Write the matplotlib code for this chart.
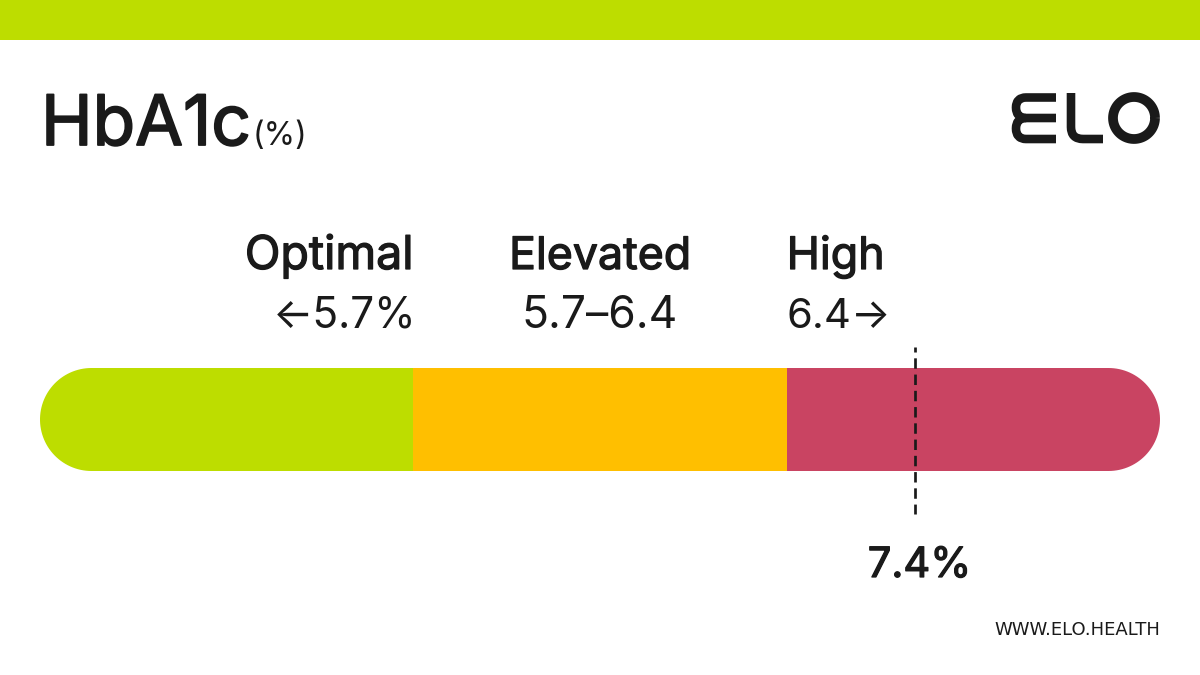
import matplotlib
matplotlib.use("Agg")
import matplotlib.pyplot as plt
import matplotlib.patheffects as pe
from matplotlib.patches import PathPatch, Rectangle
from matplotlib.path import Path
import numpy as np

plt.rcParams['font.family'] = ['Inter', 'DejaVu Sans']

zone_names = ['Optimal', 'Elevated', 'High']
zone_ranges = ['←5.7%', '5.7–6.4', '6.4→']
zone_widths = [1, 1, 1]
zone_colors = ['#BDDD00', '#FFBF00', '#C94462']
marker_position = 2.345
marker_label = '7.4%'
ink = '#1A1A1A'

fig = plt.figure(figsize=(12, 6.75), dpi=100, facecolor='white')
page = fig.add_axes([0, 0, 1, 1])
page.set_xlim(0, 1200)
page.set_ylim(675, 0)
page.axis('off')
page.set_zorder(3)
page.patch.set_alpha(0)

page.add_patch(Rectangle((0, 0), 1200, 40, fc=zone_colors[0], ec='none'))

heavy = [pe.withStroke(linewidth=0.9, foreground=ink)]
heavy_title = [pe.withStroke(linewidth=1.3, foreground=ink)]

# Title
page.text(41, 145, 'HbA1c', fontsize=50, color=ink, va='baseline', ha='left', path_effects=heavy_title)
page.text(253, 145, '(%)', fontsize=23, color=ink, va='baseline', ha='left')

# Logo
def logo_stroke(verts, codes):
    page.add_patch(PathPatch(Path(verts, codes), fc='none', ec=ink, lw=6.2, capstyle='butt', joinstyle='round'))
M, L, C = Path.MOVETO, Path.LINETO, Path.CURVE3
logo_stroke([(1056, 97.5), (1026, 97.5), (1016, 97.5), (1016, 107.5), (1016, 118), (1026, 118), (1056, 118)],
            [M, L, C, C, C, C, L])
logo_stroke([(1026, 118), (1016, 118), (1016, 128.5), (1016, 139), (1026, 139), (1056, 139)],
            [M, C, C, C, C, L])
logo_stroke([(1071, 93), (1071, 127), (1071, 139), (1083, 139), (1103, 139)], [M, L, C, C, L])
theta = np.linspace(0, 2 * np.pi, 100)
page.plot(1134 + 21 * np.cos(theta), 118 + 21 * np.sin(theta), color=ink, lw=7, solid_capstyle='butt')

# Bar
bar = fig.add_axes([40 / 1200, (675 - 471) / 675, 1120 / 1200, 103 / 675])
bar.set_xlim(0, sum(zone_widths))
bar.set_ylim(0, 1)
bar.axis('off')

r = 51.5
t = np.linspace(-np.pi / 2, np.pi / 2, 60)
outline_x = np.r_[1160 - r + r * np.cos(t), 40 + r - r * np.cos(t)]
outline_y = np.r_[419.5 + r * np.sin(t), 419.5 - r * np.sin(t)]
clip = PathPatch(Path(np.c_[outline_x, outline_y]), transform=page.transData, fc='none', ec='none')
page.add_patch(clip)
left = 0
for w, c in zip(zone_widths, zone_colors):
    b = bar.barh(0.5, w, left=left, height=1, color=c, linewidth=0)[0]
    b.set_clip_path(clip)
    left += w

# Zone labels
edges = np.cumsum(zone_widths)
to_px = lambda v: 40 + 1120 * v / sum(zone_widths)
mid = (to_px(edges[0]) + to_px(edges[1])) / 2
anchors = [(to_px(edges[0]) + 0.5, 'right'), (mid, 'center'), (to_px(edges[1]), 'left')]
range_nudge = [3, 0, 0]
name_sizes = [33.5, 32.2, 32.2]
range_sizes = [30.5, 32, 30]
for (ax_x, ha), name, rng, ns, rs, dx in zip(anchors, zone_names, zone_ranges, name_sizes, range_sizes, range_nudge):
    page.text(ax_x, 269, name, fontsize=ns, color=ink, ha=ha, va='baseline', path_effects=heavy)
    page.text(ax_x + dx, 328, rng, fontsize=rs, color=ink, ha=ha, va='baseline')

# Marker
mx = to_px(marker_position)
page.plot([mx, mx], [347, 514], color=ink, lw=1.95, ls=(2.0, (3.85, 2.15)), zorder=5, dash_capstyle='butt')
page.text(mx + 4, 577, marker_label, fontsize=30, color=ink, ha='center', va='baseline', path_effects=heavy)
page.text(1160, 635, 'WWW.ELO.HEALTH', fontsize=13, color=ink, ha='right', va='baseline',
          family=['DejaVu Sans'])

fig.savefig('out.png', dpi=100)
